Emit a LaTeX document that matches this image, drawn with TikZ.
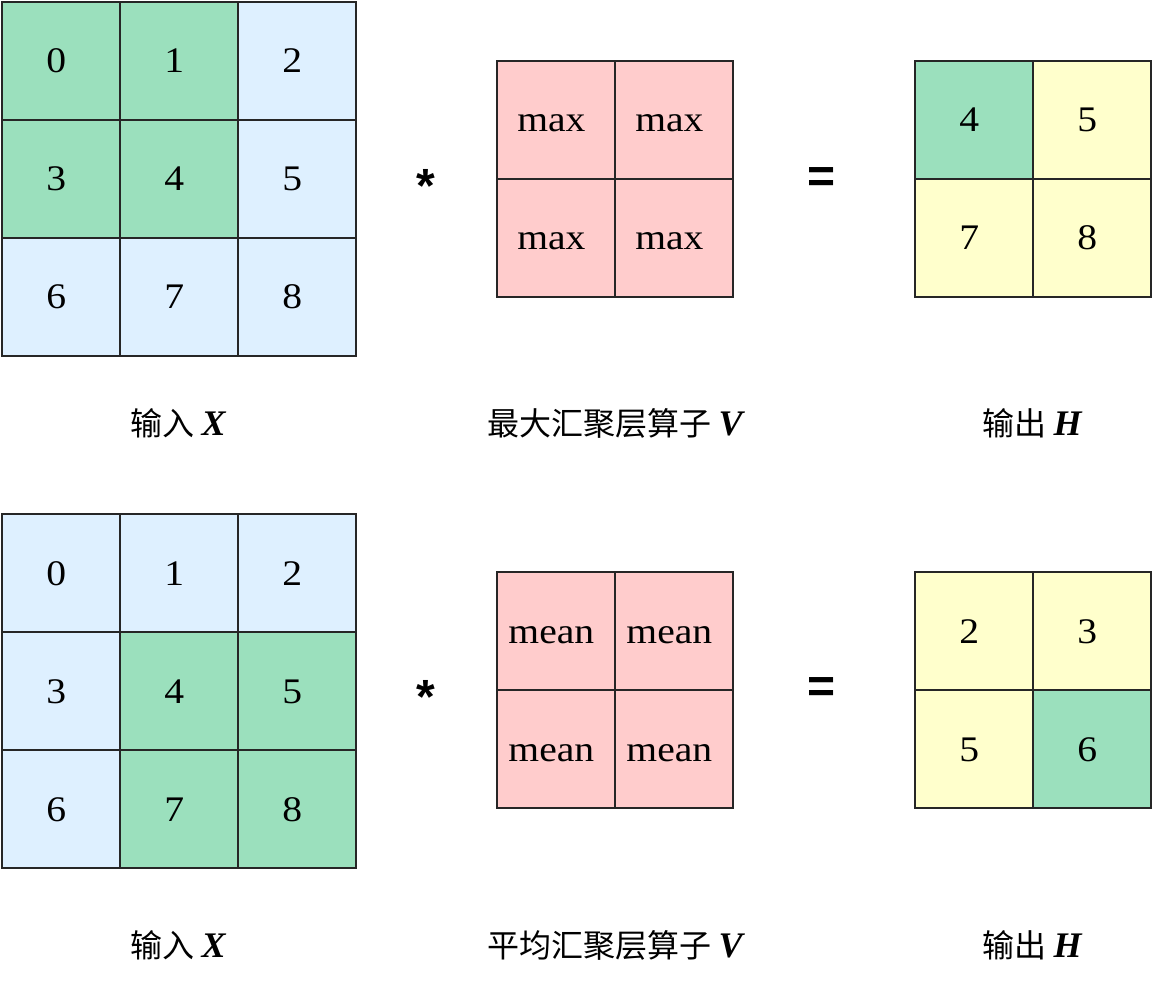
\documentclass[tikz,border=0pt]{standalone}
\usepackage{fontspec}
\setmainfont{Liberation Serif}
\newfontfamily\cellfont{Liberation Serif}[FakeStretch=1.1]
\newfontfamily\cjk{Noto Sans CJK SC}
\newfontfamily\symf{Liberation Sans}
\definecolor{cgreen}{HTML}{9BE0BD}
\definecolor{cblue}{HTML}{DEF0FF}
\definecolor{cpink}{HTML}{FFCCCC}
\definecolor{cyellow}{HTML}{FFFFCC}
\newcommand{\ctxt}[1]{#1\hspace*{7pt}}
\newcommand{\mathlab}[1]{{\rmfamily\bfseries\itshape\fontsize{27}{30}\selectfont #1}}
\tikzset{
  cell/.style={draw=black!85, line width=1.4pt, minimum size=88.5pt, inner sep=0pt, outer sep=0pt, text height=18pt, text depth=0pt, font=\cellfont\fontsize{27}{30}\selectfont, anchor=north west},
  lab/.style={font=\cjk\fontsize{24}{27}\selectfont, inner sep=0pt},
  opsym/.style={font=\symf\bfseries\fontsize{36}{38}\selectfont, inner sep=0pt}
}
\begin{document}
\begin{tikzpicture}[x=0.75pt,y=-0.75pt]
\useasboundingbox (0,0) rectangle (1153,984);
% ---------- top row: max pooling ----------
\foreach \v/\c [count=\k from 0] in {0/cgreen,1/cgreen,2/cblue,3/cgreen,4/cgreen,5/cblue,6/cblue,7/cblue,8/cblue}{
  \pgfmathtruncatemacro{\r}{int(\k/3)}
  \pgfmathtruncatemacro{\q}{mod(\k,3)}
  \node[cell, fill=\c] (a\k) at ({2+118*\q},{2+118*\r}) {\ctxt{\v}};
}
\foreach \k in {0,1,2,3}{
  \pgfmathtruncatemacro{\r}{int(\k/2)}
  \pgfmathtruncatemacro{\q}{mod(\k,2)}
  \node[cell, fill=cpink] (b\k) at ({497+118*\q},{61+118*\r}) {\ctxt{max}};
}
\foreach \v/\c [count=\k from 0] in {4/cgreen,5/cyellow,7/cyellow,8/cyellow}{
  \pgfmathtruncatemacro{\r}{int(\k/2)}
  \pgfmathtruncatemacro{\q}{mod(\k,2)}
  \node[cell, fill=\c] (c\k) at ({915+118*\q},{61+118*\r}) {\ctxt{\v}};
}
\node[opsym] (s1) at (426,186) {*};
\node[opsym] (e1) at (822,180) {=};
\node[lab] (l1) at (178,423) {输入 \mathlab{X}};
\node[lab] (l2) at (615,423) {最大汇聚层算子 \mathlab{V}};
\node[lab] (l3) at (1032,423) {输出 \mathlab{H}};
% ---------- bottom row: mean pooling ----------
\foreach \v/\c [count=\k from 0] in {0/cblue,1/cblue,2/cblue,3/cblue,4/cgreen,5/cgreen,6/cblue,7/cgreen,8/cgreen}{
  \pgfmathtruncatemacro{\r}{int(\k/3)}
  \pgfmathtruncatemacro{\q}{mod(\k,3)}
  \node[cell, fill=\c] (d\k) at ({2+118*\q},{514+118*\r}) {\ctxt{\v}};
}
\foreach \k in {0,1,2,3}{
  \pgfmathtruncatemacro{\r}{int(\k/2)}
  \pgfmathtruncatemacro{\q}{mod(\k,2)}
  \node[cell, fill=cpink] (f\k) at ({497+118*\q},{572+118*\r}) {\ctxt{mean}};
}
\foreach \v/\c [count=\k from 0] in {2/cyellow,3/cyellow,5/cyellow,6/cgreen}{
  \pgfmathtruncatemacro{\r}{int(\k/2)}
  \pgfmathtruncatemacro{\q}{mod(\k,2)}
  \node[cell, fill=\c] (g\k) at ({915+118*\q},{572+118*\r}) {\ctxt{\v}};
}
\node[opsym] (s2) at (426,697) {*};
\node[opsym] (e2) at (822,690) {=};
\node[lab] (m1) at (178,945) {输入 \mathlab{X}};
\node[lab] (m2) at (615,945) {平均汇聚层算子 \mathlab{V}};
\node[lab] (m3) at (1032,945) {输出 \mathlab{H}};
\end{tikzpicture}
\end{document}
